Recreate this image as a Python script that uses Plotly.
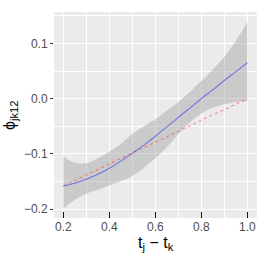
import plotly.graph_objects as go

t_diff = [0.2, 0.25, 0.3, 0.35, 0.4, 0.45, 0.5, 0.55, 0.6, 0.65, 0.7, 0.75, 0.8, 0.85, 0.9, 0.95, 1.0]
phi_fit = [-0.158, -0.153, -0.146, -0.137, -0.126, -0.113, -0.099, -0.084, -0.068, -0.051, -0.034, -0.017, 0.000, 0.016, 0.033, 0.049, 0.065]
phi_true = [-0.158, -0.148, -0.138, -0.128, -0.118, -0.108, -0.098, -0.088, -0.079, -0.069, -0.059, -0.049, -0.039, -0.029, -0.020, -0.010, 0.000]
ci_upper = [-0.104, -0.116, -0.117, -0.108, -0.096, -0.082, -0.064, -0.050, -0.037, -0.022, -0.006, 0.012, 0.032, 0.053, 0.076, 0.105, 0.139]
ci_lower = [-0.199, -0.183, -0.172, -0.165, -0.157, -0.149, -0.140, -0.125, -0.108, -0.088, -0.064, -0.043, -0.027, -0.016, -0.010, -0.006, -0.004]

x_ticks = [0.2, 0.4, 0.6, 0.8, 1.0]
x_ticklabels = ["0.2", "0.4", "0.6", "0.8", "1.0"]
y_ticks = [-0.2, -0.1, 0.0, 0.1]
y_ticklabels = ["\u22120.2", "\u22120.1", "0.0", "0.1"]
x_title = "t<sub>j</sub> \u2212 t<sub>k</sub>"
y_title = "\u03d5<sub>jk12</sub>"

fig = go.Figure()
fig.add_trace(go.Scatter(x=t_diff, y=ci_lower, mode="lines", line=dict(width=0, shape="spline"),
                         showlegend=False, hoverinfo="skip"))
fig.add_trace(go.Scatter(x=t_diff, y=ci_upper, mode="lines", line=dict(width=0, shape="spline"),
                         fill="tonexty", fillcolor="rgba(153,153,153,0.4)", showlegend=False, hoverinfo="skip"))
fig.add_trace(go.Scatter(x=t_diff, y=phi_true, mode="lines",
                         line=dict(color="rgba(255,40,40,0.45)", width=1.2, dash="3px,3px", shape="spline"),
                         showlegend=False))
fig.add_trace(go.Scatter(x=t_diff, y=phi_fit, mode="lines",
                         line=dict(color="rgba(30,30,255,0.5)", width=1.1, shape="spline"),
                         showlegend=False))

font = "Liberation Sans, Arial, sans-serif"
fig.update_layout(
    width=260, height=260, autosize=False,
    margin=dict(l=54, r=3, t=12, b=42),
    paper_bgcolor="white", plot_bgcolor="#EBEBEB",
    font=dict(family=font, size=12, color="#4D4D4D"),
    xaxis=dict(range=[0.1596, 1.042], tickvals=x_ticks, ticktext=x_ticklabels, automargin=False,
               showgrid=True, gridcolor="white", gridwidth=1.1, zeroline=False,
               ticks="inside", ticklen=6, tickwidth=1.4, tickcolor="#111111",
               tickfont=dict(size=12, color="#4D4D4D"),
               minor=dict(tickvals=[0.3, 0.5, 0.7, 0.9], showgrid=True, gridcolor="white", gridwidth=0.55)),
    yaxis=dict(range=[-0.216, 0.157], tickvals=y_ticks, ticktext=y_ticklabels, automargin=False,
               showgrid=True, gridcolor="white", gridwidth=1.1, zeroline=False,
               ticks="outside", ticklen=3, tickwidth=1, tickcolor="#333333",
               tickfont=dict(size=12, color="#4D4D4D"),
               minor=dict(tickvals=[-0.15, -0.05, 0.05, 0.15], showgrid=True, gridcolor="white", gridwidth=0.55)),
)
fig.add_annotation(text=x_title, xref="paper", yref="paper", x=0.5, y=0, xanchor="center", yanchor="top",
                   yshift=-14, showarrow=False, font=dict(family=font, size=16, color="black"))
fig.add_annotation(text=y_title, xref="paper", yref="paper", x=0, y=0.5, xanchor="center", yanchor="middle",
                   xshift=-44, textangle=-90, showarrow=False, font=dict(family=font, size=16, color="black"))

fig.write_html("out.html", config={"displayModeBar": False},
               post_script="document.body.style.margin='0px';")
